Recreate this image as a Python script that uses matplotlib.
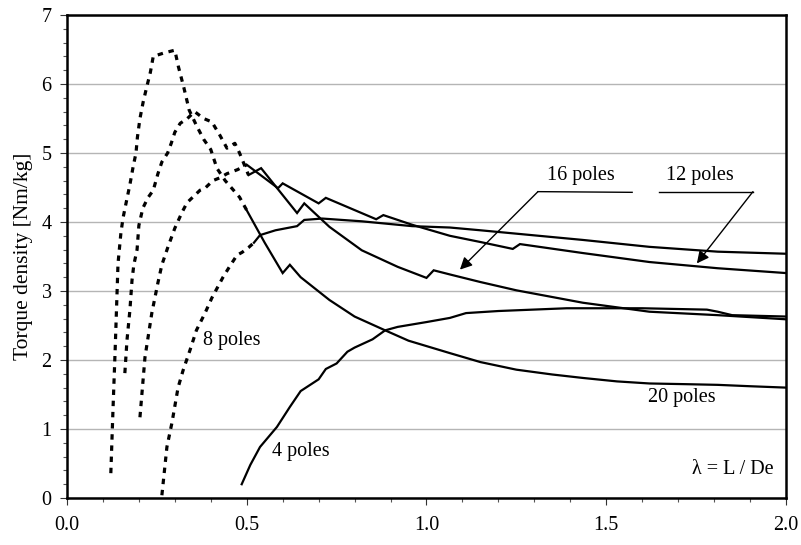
import matplotlib
matplotlib.use("Agg")
import matplotlib.pyplot as plt
from matplotlib.ticker import MultipleLocator

plt.rcParams['font.family'] = ['Liberation Serif', 'DejaVu Serif']

# ---- data (lambda = L/De, torque density Nm/kg) ----
p20_dash_x = [0.122, 0.128, 0.134, 0.142, 0.150, 0.156, 0.165, 0.175, 0.184, 0.192, 0.196, 0.203,
              0.212, 0.222, 0.232, 0.240, 0.270, 0.300, 0.310, 0.325, 0.340, 0.360, 0.380, 0.400,
              0.417, 0.440, 0.460, 0.480, 0.500]
p20_dash_y = [0.36, 1.28, 2.14, 3.40, 3.84, 4.06, 4.29, 4.54, 4.80, 5.00, 5.23, 5.50,
              5.74, 5.96, 6.17, 6.40, 6.45, 6.49, 6.25, 5.95, 5.62, 5.40, 5.20, 5.05,
              4.78, 4.60, 4.48, 4.36, 4.17]

p16_dash_x = [0.161, 0.167, 0.175, 0.181, 0.186, 0.195, 0.200, 0.211, 0.225, 0.240, 0.253, 0.264,
              0.280, 0.290, 0.300, 0.315, 0.335, 0.355, 0.380, 0.403, 0.425, 0.445, 0.467, 0.480, 0.505]
p16_dash_y = [1.81, 2.29, 2.72, 3.16, 3.38, 3.60, 3.95, 4.20, 4.35, 4.46, 4.70, 4.87,
              5.00, 5.14, 5.30, 5.43, 5.50, 5.60, 5.50, 5.45, 5.26, 5.07, 5.14, 5.00, 4.68]

p12_dash_x = [0.203, 0.217, 0.236, 0.253, 0.264, 0.281, 0.300, 0.320, 0.334, 0.370, 0.384, 0.406,
              0.425, 0.445, 0.475, 0.500]
p12_dash_y = [1.17, 2.04, 2.68, 3.12, 3.38, 3.64, 3.91, 4.14, 4.28, 4.46, 4.49, 4.60,
              4.64, 4.70, 4.76, 4.83]

p8_dash_x = [0.264, 0.278, 0.292, 0.309, 0.323, 0.342, 0.360, 0.384, 0.403, 0.434, 0.453, 0.473,
             0.487, 0.505, 0.520]
p8_dash_y = [0.04, 0.74, 1.09, 1.60, 1.85, 2.14, 2.43, 2.68, 2.90, 3.20, 3.36, 3.52,
             3.56, 3.63, 3.70]

p20_x = [0.50, 0.55, 0.60, 0.62, 0.65, 0.73, 0.80, 0.885, 0.95, 1.065, 1.15, 1.25, 1.35, 1.435,
         1.53, 1.62, 1.72, 1.81, 1.90, 2.00]
p20_y = [4.17, 3.70, 3.26, 3.38, 3.20, 2.87, 2.63, 2.43, 2.28, 2.10, 1.97, 1.86, 1.79, 1.74,
         1.69, 1.66, 1.65, 1.64, 1.62, 1.60]

p16_x = [0.505, 0.54, 0.64, 0.66, 0.73, 0.82, 0.92, 1.00, 1.02, 1.065, 1.15, 1.25, 1.435, 1.62,
         1.81, 2.00]
p16_y = [4.68, 4.78, 4.13, 4.27, 3.93, 3.59, 3.35, 3.19, 3.30, 3.24, 3.13, 3.01, 2.83, 2.70,
         2.65, 2.59]

p12_x = [0.50, 0.587, 0.60, 0.70, 0.72, 0.86, 0.88, 0.96, 1.065, 1.15, 1.24, 1.26, 1.435, 1.62,
         1.81, 2.00]
p12_y = [4.83, 4.49, 4.56, 4.27, 4.35, 4.04, 4.10, 3.96, 3.80, 3.71, 3.61, 3.68, 3.55, 3.42,
         3.33, 3.26]

p8_x = [0.52, 0.537, 0.58, 0.64, 0.66, 0.71, 0.82, 0.96, 1.065, 1.15, 1.435, 1.62, 1.81, 2.00]
p8_y = [3.70, 3.81, 3.88, 3.94, 4.03, 4.05, 4.01, 3.94, 3.92, 3.88, 3.74, 3.64, 3.57, 3.54]

p4_x = [0.486, 0.51, 0.537, 0.584, 0.62, 0.65, 0.70, 0.72, 0.75, 0.78, 0.80, 0.85, 0.885, 0.92,
        1.00, 1.065, 1.11, 1.20, 1.39, 1.60, 1.78, 1.81, 1.85, 2.00]
p4_y = [0.20, 0.48, 0.74, 1.03, 1.32, 1.55, 1.72, 1.87, 1.95, 2.12, 2.18, 2.30, 2.43, 2.48,
        2.55, 2.61, 2.68, 2.71, 2.75, 2.75, 2.73, 2.70, 2.65, 2.63]

x_ticks = [0.0, 0.5, 1.0, 1.5, 2.0]
x_tick_labels = ["0.0", "0.5", "1.0", "1.5", "2.0"]
y_ticks = [0, 1, 2, 3, 4, 5, 6, 7]

fig = plt.figure(figsize=(8.01, 5.45), dpi=100)
ax = fig.add_axes([0.0836, 0.0862, 0.8977, 0.8863])

dash_style = dict(color='black', lw=2.3, linestyle=(0, (1.7, 1.8)))
solid_style = dict(color='black', lw=1.6, solid_joinstyle='miter')

for xs, ys in [(p20_dash_x, p20_dash_y), (p16_dash_x, p16_dash_y),
               (p12_dash_x, p12_dash_y), (p8_dash_x, p8_dash_y)]:
    ax.plot(xs, ys, **dash_style)

for xs, ys in [(p20_x, p20_y), (p16_x, p16_y), (p12_x, p12_y), (p8_x, p8_y), (p4_x, p4_y)]:
    ax.plot(xs, ys, **solid_style)

ax.set_xlim(0, 2.0)
ax.set_ylim(0, 7)
ax.set_xticks(x_ticks)
ax.set_xticklabels(x_tick_labels)
ax.set_yticks(y_ticks)
ax.xaxis.set_minor_locator(MultipleLocator(0.1))
ax.yaxis.set_minor_locator(MultipleLocator(0.2))
ax.tick_params(axis='both', which='major', direction='out', length=5, width=0.8,
               labelsize=14.5, colors='#333333', labelcolor='black')
ax.tick_params(axis='both', which='minor', direction='out', length=3, width=0.8, colors='#555555')
ax.tick_params(axis='x', which='major', pad=8)
ax.tick_params(axis='y', which='major', pad=6)
ax.grid(axis='y', which='major', color='#b5b5b5', lw=1.0)
ax.set_axisbelow(True)
for s in ax.spines.values():
    s.set_linewidth(1.8)
    s.set_color('black')

ax.set_ylabel("Torque density [Nm/kg]", fontsize=15.5, labelpad=6)

fs = 14.5
ax.text(0.378, 2.29, "8 poles", fontsize=fs, va='center', ha='left')
ax.text(0.57, 0.68, "4 poles", fontsize=fs, va='center', ha='left')
ax.text(1.616, 1.46, "20 poles", fontsize=fs, va='center', ha='left')
ax.text(1.335, 4.67, "16 poles", fontsize=fs, va='center', ha='left')
ax.text(1.665, 4.67, "12 poles", fontsize=fs, va='center', ha='left')
ax.text(1.965, 0.41, "λ = L / De", fontsize=fs, va='center', ha='right')

# leader lines with arrows
ax.plot([1.31, 1.572], [4.44, 4.43], color='black', lw=1.0)
ax.annotate("", xy=(1.093, 3.31), xytext=(1.31, 4.44),
            arrowprops=dict(arrowstyle='-|>', color='black', lw=1.0,
                            mutation_scale=18, shrinkA=0, shrinkB=0))
ax.plot([1.647, 1.908], [4.44, 4.44], color='black', lw=1.0)
ax.annotate("", xy=(1.752, 3.40), xytext=(1.908, 4.44),
            arrowprops=dict(arrowstyle='-|>', color='black', lw=1.0,
                            mutation_scale=18, shrinkA=0, shrinkB=0))

fig.savefig("out.png", dpi=100)
